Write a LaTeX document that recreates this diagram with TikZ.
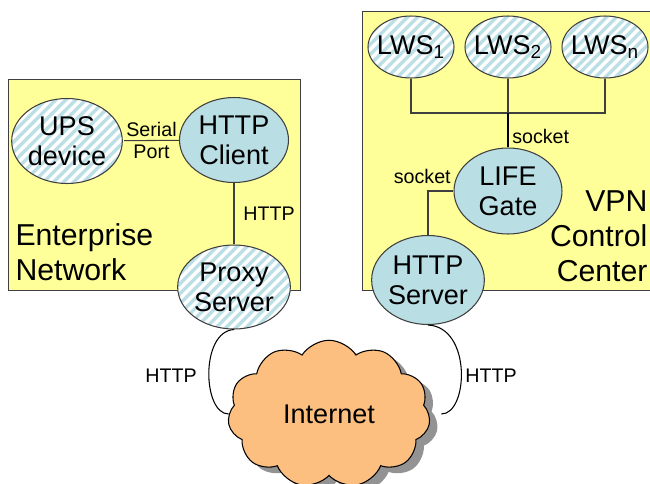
\documentclass[tikz,border=0pt]{standalone}
\usepackage{fontspec}
\setmainfont{Liberation Sans}
\usepackage{tikz}
\usetikzlibrary{shapes.geometric, shapes.symbols, patterns.meta, shadows}
\definecolor{zoneY}{HTML}{FFFF99}
\definecolor{nodeB}{HTML}{B9DEE3}
\definecolor{stripeB}{HTML}{BCDFE6}
\definecolor{cloudO}{HTML}{FDBF80}
\definecolor{lineG}{HTML}{3F3F3F}

\begin{document}
\begin{tikzpicture}[x=0.02cm, y=-0.02cm, line width=0.6pt,
   zone/.style={draw=lineG, fill=zoneY, anchor=north west, inner sep=0pt},
   host/.style={ellipse, draw=lineG, fill=nodeB, inner sep=0pt, align=center,
                font=\fontsize{15.4}{17.2}\selectfont},
   ext/.style={host, preaction={fill=white},
               pattern={Lines[angle=45, distance=4pt, line width=2pt]}, pattern color=stripeB},
   lws/.style={ext, inner xsep=-3pt, minimum width=1.72cm, minimum height=1.24cm},
   lbl/.style={font=\fontsize{11.2}{12.6}\selectfont, align=center, inner sep=1pt},
   zonelbl/.style={font=\fontsize{17.2}{20}\selectfont, inner sep=0pt},
   wire/.style={draw=lineG}]
  \useasboundingbox (0,0) rectangle (650,484);
  % zones
  \node[zone, minimum width=5.84cm, minimum height=4.22cm] (entnet) at (8,79) {};
  \node[zone, minimum width=6cm, minimum height=5.58cm] (vpncc) at (362,11) {};
  \node[zonelbl, anchor=west, align=left] (entlbl) at (15,252) {Enterprise\\Network};
  \node[zonelbl, anchor=east, align=right] (vpnlbl) at (648,236) {VPN\\Control\\Center};
  % enterprise side
  \node[ext, minimum width=2.16cm, minimum height=1.7cm] (ups) at (67,141) {UPS\\device};
  \node[host, minimum width=2.18cm, minimum height=1.7cm] (client) at (234,140) {HTTP\\Client};
  \node[ext, minimum width=2.2cm, minimum height=1.68cm] (proxy) at (234,287) {Proxy\\Server};
  \draw[wire] (ups) -- node[lbl] (serlbl) {Serial\\Port} (client);
  \draw[wire] (client) -- node[lbl, right=4pt] (httplbl) {HTTP} (proxy);
  % vpn control center
  \node[lws] (lws1) at (411,47) {LWS\textsubscript{1}};
  \node[lws] (lws2) at (508,47) {LWS\textsubscript{2}};
  \node[lws] (lwsn) at (605,47) {LWS\textsubscript{n}};
  \node[host, minimum width=2.16cm, minimum height=1.72cm] (gate) at (508,191) {LIFE\\Gate};
  \node[host, minimum width=2.2cm, minimum height=1.78cm] (srv) at (428,280) {HTTP\\Server};
  \coordinate (bus) at (508,113);
  \draw[wire] (lws1.south) |- (bus) -| (lwsn.south);
  \draw[wire] (lws2.south) -- (bus);
  \draw[wire, line width=1.4pt, draw=black] (bus) -- (gate.north);
  \node[lbl, anchor=west] (sock1) at (510,136) {socket};
  \draw[wire] (gate.west) -| (srv.north);
  \node[lbl, anchor=east] (sock2) at (453,176) {socket};
  % internet
  \node[cloud, cloud puffs=11, cloud puff arc=115, aspect=1.45, draw=black, fill=cloudO,
        minimum width=4.05cm, minimum height=2.95cm, inner sep=0pt,
        drop shadow={shadow xshift=4.5pt, shadow yshift=-3.5pt, fill=gray!85, opacity=1},
        font=\fontsize{15.4}{17.2}\selectfont] (net) at (329,414) {Internet};
  \draw[draw=black] (proxy.south) .. controls +(-34,2) and +(-26,0) .. (net.west);
  \draw[draw=black] (srv.south) .. controls +(44,2) and +(27,0) .. ([xshift=0.24cm]net.east);
  \node[lbl] (httpL) at (171,376) {HTTP};
  \node[lbl] (httpR) at (491,376) {HTTP};
\end{tikzpicture}
\end{document}
